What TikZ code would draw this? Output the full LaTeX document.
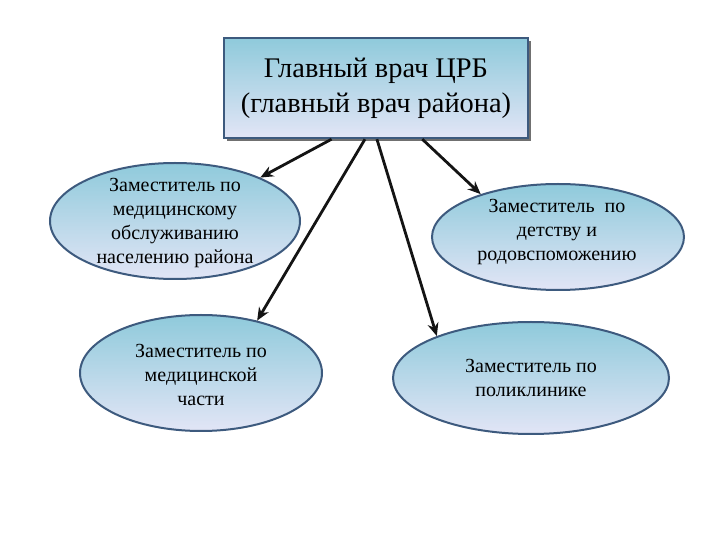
\documentclass[tikz,border=0pt]{standalone}
\usepackage{fontspec}
\setmainfont{Liberation Serif}
\usepackage{xcolor}
\usetikzlibrary{positioning, arrows.meta, calc, shapes.geometric, shadows}
\definecolor{skyTop}{HTML}{8FCADB}
\definecolor{skyBottom}{HTML}{E2E5F6}
\definecolor{rimBlue}{HTML}{3D5A7E}
\definecolor{inkDark}{HTML}{141414}

\begin{document}
\begin{tikzpicture}[x=0.5pt,y=-0.5pt]
      \tikzset{chiefbox/.style={draw=rimBlue,line width=1.2pt,top color=skyTop,bottom color=skyBottom,minimum width=152pt,minimum height=50pt,inner sep=0pt,align=center,font=\fontsize{14.2}{17.5}\selectfont,drop shadow={shadow xshift=1.6pt,shadow yshift=-1.6pt,fill=black!70,opacity=0.8}},
        deputyoval/.style={ellipse,draw=rimBlue,line width=1pt,top color=skyTop,bottom color=skyBottom,inner sep=0pt,align=center},
        ovaltext/.style={align=center,font=\fontsize{10}{12}\selectfont},
        linkarrow/.style={draw=inkDark,line width=1.4pt,-{Stealth[length=6.5pt,width=5.5pt]}}}
      \useasboundingbox (0,0) rectangle (720,540);
      \node[chiefbox] (chief) at (376,88) {Главный врач ЦРБ\\(главный врач района)};
      \node[deputyoval,minimum width=125pt,minimum height=58pt] (medserv) at (175,221) {};
      \node[ovaltext] (medservtext) at (175,223) {Заместитель по\\медицинскому\\обслуживанию\\населению района};
      \node[deputyoval,minimum width=126pt,minimum height=53pt] (childhood) at (558,237) {};
      \node[ovaltext] (childhoodtext) at (557,232) {Заместитель~ по\\детству и\\родовспоможению};
      \node[deputyoval,minimum width=121pt,minimum height=58pt] (medpart) at (201,373) {};
      \node[ovaltext] (medparttext) at (201,375) {Заместитель по\\медицинской\\части};
      \node[deputyoval,minimum width=138pt,minimum height=56pt] (clinic) at (531,378) {};
      \node[ovaltext] (clinictext) at (531,378) {Заместитель по\\поликлинике};
      \draw[linkarrow] ($(chief.south west)!0.355!(chief.south east)$) -- (medserv.27);
      \draw[linkarrow] ($(chief.south west)!0.464!(chief.south east)$) -- (medpart.43);
      \draw[linkarrow] ($(chief.south west)!0.503!(chief.south east)$) -- (clinic.156);
      \draw[linkarrow] ($(chief.south west)!0.651!(chief.south east)$) -- (childhood.151);
    \end{tikzpicture}
\end{document}
